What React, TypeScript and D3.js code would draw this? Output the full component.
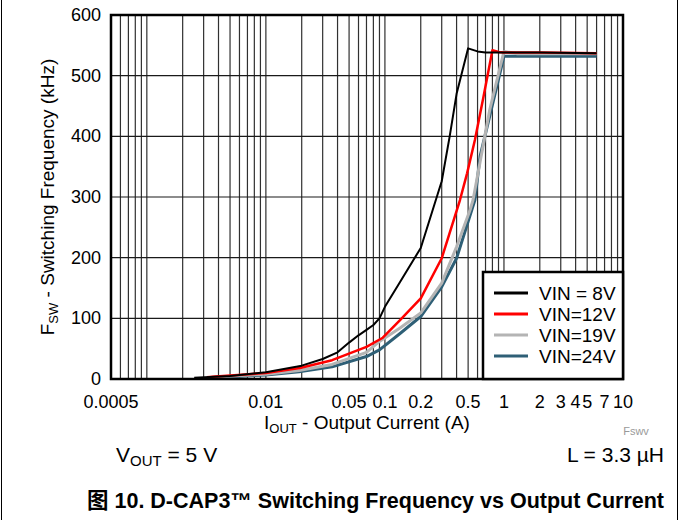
import React from "react";
import * as d3 from "d3";

const seriesNames = ["VIN = 8V", "VIN=12V", "VIN=19V", "VIN=24V"];
const seriesColors = ["#000000", "#ff0000", "#b4b4b4", "#2e5f76"];

const vin8: [number, number][] = [
  [0.0025, 2], [0.005, 5], [0.01, 11], [0.02, 22], [0.03, 33], [0.04, 44], [0.05, 60], [0.06, 72],
  [0.07, 81], [0.08, 89], [0.09, 100], [0.1, 119], [0.134, 160], [0.2, 216], [0.3, 326], [0.35, 400],
  [0.4, 470], [0.5, 545], [0.6, 540], [0.7, 538], [1, 538], [2, 538], [6, 537],
];
const vin12: [number, number][] = [
  [0.0032, 3], [0.0038, 4], [0.01, 10], [0.0193, 18], [0.036, 31], [0.07, 53], [0.096, 68],
  [0.134, 97], [0.2, 133], [0.3, 199], [0.427, 295], [0.49, 339], [0.57, 394], [0.67, 463],
  [0.8, 542], [0.9, 539], [1, 538], [2, 538], [6, 537],
];
const vin19: [number, number][] = [
  [0.0035, 3], [0.01, 8], [0.019, 14], [0.036, 24], [0.07, 44], [0.09, 62], [0.134, 84],
  [0.2, 109], [0.3, 158], [0.4, 218], [0.52, 279], [0.55, 295], [0.76, 444], [1, 540],
  [1.3, 536], [2, 536], [6, 536],
];
const vin24: [number, number][] = [
  [0.0044, 3], [0.01, 6.6], [0.019, 12], [0.036, 20], [0.07, 37], [0.09, 48], [0.134, 75],
  [0.2, 103], [0.3, 152], [0.4, 199], [0.57, 295], [0.63, 367], [0.87, 482], [1, 532],
  [2, 532], [6, 532],
];
const seriesData = [vin8, vin12, vin19, vin24];
const seriesWidths = [2, 2.5, 3, 3];

const xTickValues = [0.0005, 0.01, 0.05, 0.1, 0.2, 0.5, 1, 2, 3, 4, 5, 7, 10];
const xTickLabels = ["0.0005", "0.01", "0.05", "0.1", "0.2", "0.5", "1", "2", "3", "4", "5", "7", "10"];
const yTickValues = [0, 100, 200, 300, 400, 500, 600];

const FONT = "'Liberation Sans', Arial, 'Noto Sans CJK SC', sans-serif";

export default function App() {
  const left = 111, right = 623, top = 15, bottom = 379;
  const x = d3.scaleLog().domain([0.0005, 10]).range([left, right]);
  const y = d3.scaleLinear().domain([0, 600]).range([bottom, top]);

  const grid: number[] = [];
  for (let e = -4; e <= 1; e++) {
    for (let m = 1; m <= 9; m++) {
      const v = m * Math.pow(10, e);
      if (v > 0.0005 * 1.0001 && v < 10 * 0.9999) grid.push(v);
    }
  }

  const line = d3
    .line<[number, number]>()
    .x((d) => x(d[0]))
    .y((d) => y(d[1]));

  const order = [3, 2, 1, 0];

  const legX = 483, legY = 272, legW = right - 483, legH = bottom - 272;

  return (
    <svg
      width={681}
      height={520}
      style={{ position: "absolute", left: 0, top: 0, background: "#fff" }}
      fontFamily={FONT}
    >
      <rect x={0} y={0} width={681} height={520} fill="#fff" />
      <line x1={1.5} y1={0} x2={1.5} y2={520} stroke="#000" strokeWidth={1} />
      <line x1={677.5} y1={0} x2={677.5} y2={520} stroke="#000" strokeWidth={1} />

      {/* grid */}
      {grid.map((v, i) => (
        <line key={"gx" + i} x1={x(v)} x2={x(v)} y1={top} y2={bottom} stroke="#303030" strokeWidth={1.2} />
      ))}
      {yTickValues.map((v, i) => (
        <line key={"gy" + i} x1={left} x2={right} y1={y(v)} y2={y(v)} stroke="#1a1a1a" strokeWidth={1.2} />
      ))}

      {/* series */}
      {order.map((si) => (
        <path
          key={"s" + si}
          d={line(seriesData[si]) || ""}
          fill="none"
          stroke={seriesColors[si]}
          strokeWidth={seriesWidths[si]}
          strokeLinejoin="round"
        />
      ))}

      {/* frame */}
      <rect x={left} y={top} width={right - left} height={bottom - top} fill="none" stroke="#000" strokeWidth={2.5} />

      {/* legend */}
      <rect x={legX} y={legY} width={legW} height={legH} fill="#fff" stroke="#000" strokeWidth={2.5} />
      {seriesNames.map((n, i) => (
        <g key={"l" + i}>
          <line
            x1={494}
            x2={528}
            y1={legY + 21 + i * 21}
            y2={legY + 21 + i * 21}
            stroke={seriesColors[i]}
            strokeWidth={3}
          />
          <text x={539} y={legY + 28 + i * 21} fontSize={19} fill="#000">
            {n}
          </text>
        </g>
      ))}

      {/* y ticks */}
      {yTickValues.map((v, i) => (
        <text key={"yt" + i} x={101} y={y(v) + 6} fontSize={18} textAnchor="end" fill="#000">
          {v}
        </text>
      ))}
      {/* x ticks */}
      {xTickValues.map((v, i) => (
        <text key={"xt" + i} x={x(v)} y={408} fontSize={18} textAnchor="middle" fill="#000">
          {xTickLabels[i]}
        </text>
      ))}

      {/* axis titles */}
      <text x={367} y={429} fontSize={19} textAnchor="middle" fill="#000">
        I<tspan fontSize={13} dy={4}>OUT</tspan>
        <tspan dy={-4}> - Output Current (A)</tspan>
      </text>
      <text transform="translate(54,197) rotate(-90)" fontSize={19} textAnchor="middle" fill="#000">
        F<tspan fontSize={13} dy={4}>SW</tspan>
        <tspan dy={-4}> - Switching Frequency (kHz)</tspan>
      </text>

      <text x={636} y={435} fontSize={11} textAnchor="middle" fill="#999">
        Fswv
      </text>
      <text x={116} y={462} fontSize={21} fill="#000">
        V<tspan fontSize={15} dy={4}>OUT</tspan>
        <tspan dy={-4}> = 5 V</tspan>
      </text>
      <text x={664} y={462} fontSize={21} textAnchor="end" fill="#000">
        L = 3.3 µH
      </text>

      <text x={87} y={508} fontSize={21.5} fontWeight="bold" fill="#000">
        图 10. D-CAP3™ Switching Frequency vs Output Current
      </text>
    </svg>
  );
}
